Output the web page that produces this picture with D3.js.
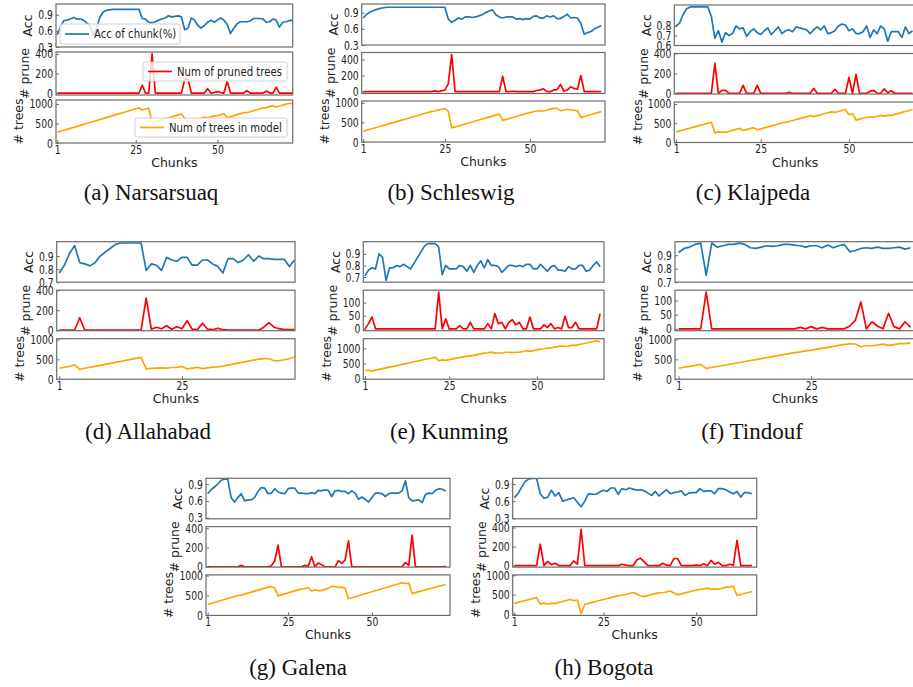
<!DOCTYPE html>
<html>
<head>
<meta charset="utf-8">
<script src="https://cdn.jsdelivr.net/npm/d3@7"></script>
<style>
body { margin: 0; background: #fff; }
svg { display: block; }
</style>
</head>
<body>
<svg id="fig" width="913" height="687"></svg>
<script>
//----------data----------
var chunkTicks = [1, 25, 50]
var chunkTicksShort = [1, 25]
var accTicksWide = [0.3, 0.6, 0.9]
var accTicksC = [0.6, 0.7, 0.8]
var accTicksNarrow = [0.7, 0.8, 0.9]
var pruneTicksBig = [0, 200, 400]
var pruneTicksSmall = [0, 50, 100]
var treeTicks = [0, 500, 1000]
var captions = ["(a) Narsarsuaq", "(b) Schleswig", "(c) Klajpeda", "(d) Allahabad",
	"(e) Kunming", "(f) Tindouf", "(g) Galena", "(h) Bogota"]
var legendNames = ["Acc of chunk(%)", "Num of pruned trees", "Num of trees in model"]

// (a) Narsarsuaq
var accA = [0.53,0.68,0.79,0.80,0.82,0.85,0.82,0.82,0.80,0.75,
	0.70,0.52,0.65,0.85,0.95,0.98,0.99,1.0,1.0,1.0,
	1.0,1.0,1.0,1.0,1.0,1.0,0.83,0.82,0.76,0.75,
	0.77,0.80,0.82,0.84,0.88,0.86,0.87,0.88,0.86,0.62,
	0.65,0.84,0.80,0.70,0.65,0.70,0.76,0.80,0.76,0.80,
	0.84,0.80,0.72,0.55,0.65,0.73,0.77,0.77,0.77,0.78,
	0.83,0.83,0.83,0.82,0.76,0.77,0.82,0.80,0.67,0.76,
	0.77,0.79,0.80]
var pruneA = [0,0,0,0,0,0,0,0,0,0,
	0,0,0,0,0,0,0,0,0,0,
	0,0,0,0,0,0,80,0,0,400,
	0,0,0,0,0,0,0,0,0,140,
	145,0,0,0,0,0,45,0,5,15,
	5,0,120,0,0,0,0,0,25,0,
	0,0,0,0,20,0,0,60,0,0,
	0,0,0]
var treesA = [275,300,325,350,375,400,425,450,475,500,
	525,550,575,600,625,650,675,700,725,750,
	775,800,825,850,875,900,845,870,895,520,
	545,570,595,620,645,670,695,720,745,630,
	540,565,590,615,640,665,645,670,690,700,
	720,745,650,675,700,725,750,775,775,800,
	825,850,875,900,905,930,955,920,945,970,
	995,1010,1020]

// (b) Schleswig
var accB = [0.80,0.87,0.91,0.94,0.96,0.98,0.99,1.0,1.0,1.0,
	1.0,1.0,1.0,1.0,1.0,1.0,1.0,1.0,1.0,1.0,
	1.0,1.0,1.0,1.0,1.0,0.78,0.72,0.76,0.80,0.78,
	0.82,0.82,0.81,0.82,0.84,0.86,0.90,0.93,0.95,0.86,
	0.82,0.80,0.82,0.82,0.82,0.78,0.79,0.77,0.79,0.78,
	0.83,0.84,0.80,0.80,0.84,0.82,0.84,0.79,0.79,0.83,
	0.87,0.80,0.81,0.80,0.70,0.50,0.53,0.55,0.60,0.63,
	0.66]
var pruneB = [0,0,0,0,0,0,0,0,0,0,
	0,0,0,0,0,0,0,0,0,0,
	0,10,0,10,20,100,460,0,0,0,
	0,0,0,0,0,0,0,0,0,0,
	0,190,0,0,5,0,0,0,0,0,
	0,15,20,35,0,0,20,25,90,5,
	20,60,40,30,200,0,0,0,0,0,
	0]
var treesB = [275,300,325,350,375,400,425,450,475,500,
	525,550,575,600,625,650,675,700,725,750,
	775,790,815,835,855,780,360,385,410,435,
	460,485,510,535,560,585,610,635,660,685,
	710,550,575,600,625,650,675,700,725,750,
	770,790,795,790,810,840,855,855,800,815,
	835,820,810,800,620,650,675,700,725,750,
	775]

// (c) Klajpeda
var accC = [0.80,0.83,0.92,0.98,1.0,1.0,1.0,1.0,1.0,1.0,
	0.90,0.67,0.75,0.63,0.73,0.70,0.72,0.80,0.77,0.78,
	0.69,0.74,0.77,0.73,0.71,0.75,0.78,0.71,0.75,0.79,
	0.72,0.75,0.76,0.74,0.79,0.78,0.77,0.76,0.72,0.76,
	0.79,0.76,0.80,0.72,0.73,0.75,0.80,0.82,0.81,0.75,
	0.77,0.72,0.72,0.74,0.80,0.68,0.76,0.72,0.80,0.77,
	0.64,0.74,0.74,0.74,0.68,0.79,0.72,0.75]
var pruneC = [0,0,0,0,0,0,0,0,0,0,
	0,300,0,30,30,0,0,0,0,80,
	0,0,0,80,0,0,0,0,0,0,
	0,0,10,0,0,0,0,0,0,50,
	0,0,0,0,0,40,0,0,0,160,
	0,190,0,0,0,20,30,0,0,45,
	5,25,0,0,0,0,0,0]
var treesC = [275,300,325,350,375,400,425,450,475,500,
	525,250,275,270,265,290,315,340,365,310,
	335,360,385,330,355,380,405,430,455,480,
	505,530,545,570,595,620,645,670,695,670,
	695,720,745,770,795,780,805,830,855,720,
	745,580,605,630,655,660,655,680,705,685,
	705,705,730,755,780,805,830,855]

// (d) Allahabad
var accD = [0.77,0.83,0.92,0.98,0.85,0.84,0.825,0.85,0.90,0.93,
	0.96,0.99,1.0,1.0,1.0,1.0,1.0,0.79,0.84,0.83,
	0.79,0.89,0.87,0.86,0.89,0.89,0.83,0.83,0.87,0.87,
	0.84,0.82,0.77,0.88,0.88,0.85,0.87,0.91,0.86,0.90,
	0.88,0.88,0.875,0.875,0.875,0.82,0.87]
var pruneD = [0,0,0,0,125,0,0,0,0,0,
	0,0,0,0,0,0,0,320,10,30,
	15,45,10,35,15,95,10,5,70,10,
	5,20,5,0,0,0,0,0,0,0,
	30,75,30,15,5,5,5]
var treesD = [275,300,325,360,250,275,300,325,350,375,
	400,425,450,475,500,525,550,260,275,280,
	285,280,295,300,320,260,280,300,265,285,
	305,310,330,355,380,405,430,455,480,505,
	520,515,465,470,490,520,560]

// (e) Kunming
var accE = [0.71,0.76,0.78,0.77,0.90,0.87,0.67,0.78,0.78,0.80,
	0.79,0.81,0.79,0.77,0.82,0.87,0.92,0.97,0.99,0.99,
	0.99,0.96,0.72,0.80,0.77,0.77,0.77,0.80,0.79,0.75,
	0.80,0.74,0.80,0.84,0.78,0.85,0.80,0.80,0.79,0.74,
	0.77,0.80,0.80,0.79,0.80,0.79,0.81,0.81,0.77,0.77,
	0.81,0.78,0.75,0.79,0.80,0.76,0.76,0.75,0.79,0.77,
	0.77,0.80,0.80,0.75,0.76,0.80,0.83,0.79]
var pruneE = [0,20,45,0,0,0,0,0,0,0,
	0,0,0,0,0,0,0,0,0,0,
	0,140,0,38,0,0,0,12,0,0,
	25,0,0,0,0,20,0,58,20,25,
	0,25,35,15,25,0,0,45,0,0,
	0,15,5,20,0,5,0,48,5,5,
	25,0,0,0,0,0,0,58]
var treesE = [275,280,260,285,310,335,360,385,410,435,
	460,485,510,535,560,585,610,635,660,685,
	710,595,620,607,632,657,682,695,720,745,
	745,770,795,820,845,850,875,842,847,847,
	872,872,862,872,872,897,922,902,927,952,
	977,987,1007,1012,1037,1057,1082,1059,1079,1099,
	1099,1124,1149,1174,1199,1224,1249,1216]

// (f) Tindouf
var accF = [0.92,0.95,0.96,0.98,0.99,0.75,0.99,0.96,0.97,0.98,
	0.98,0.99,0.98,0.955,0.95,0.96,0.97,0.965,0.97,0.98,
	0.98,0.975,0.97,0.96,0.97,0.97,0.955,0.975,0.955,0.97,
	0.98,0.925,0.935,0.95,0.955,0.95,0.96,0.95,0.95,0.955,
	0.96,0.945,0.955]
var pruneF = [0,0,0,0,0,130,0,0,0,0,
	0,0,0,0,0,0,0,0,0,0,
	0,0,5,0,8,0,5,0,0,0,
	0,10,30,95,0,25,10,0,55,8,
	0,25,5]
var treesF = [275,300,325,350,375,270,295,320,345,370,
	395,420,445,470,495,520,545,570,595,620,
	645,670,690,715,732,757,777,802,827,852,
	877,892,887,817,842,842,857,882,852,869,
	894,894,914]

// (g) Galena
var accG = [0.73,0.80,0.85,0.90,0.97,0.99,0.99,0.66,0.58,0.66,
	0.73,0.60,0.62,0.62,0.66,0.77,0.84,0.83,0.73,0.74,
	0.82,0.76,0.74,0.73,0.82,0.83,0.83,0.74,0.74,0.73,
	0.73,0.75,0.73,0.79,0.78,0.80,0.79,0.68,0.78,0.79,
	0.77,0.77,0.73,0.78,0.74,0.63,0.67,0.63,0.58,0.66,
	0.74,0.74,0.73,0.68,0.73,0.74,0.74,0.74,0.78,0.96,
	0.66,0.60,0.61,0.62,0.57,0.72,0.74,0.73,0.79,0.82,
	0.81,0.78]
var pruneG = [0,0,0,0,0,0,0,0,0,0,
	15,0,0,0,0,0,0,0,0,10,
	60,225,0,0,0,0,0,0,0,15,
	5,105,0,40,20,0,0,0,0,65,
	35,70,270,0,0,0,0,0,0,0,
	0,0,0,0,0,0,0,0,0,45,
	15,330,0,0,0,0,0,0,0,0,
	0,5]
var treesG = [275,300,325,350,375,400,425,450,475,500,
	510,535,560,585,610,635,660,685,710,725,
	690,490,515,540,565,590,615,640,665,675,
	695,615,640,625,630,655,680,735,720,705,
	710,680,420,445,470,495,520,545,570,595,
	620,645,670,695,720,745,770,795,820,800,
	810,550,574,598,620,643,665,688,710,733,
	755,770]

// (h) Bogota
var accH = [0.66,0.73,0.85,0.95,0.99,1.0,1.0,0.73,0.65,0.67,
	0.79,0.69,0.75,0.60,0.62,0.64,0.66,0.58,0.50,0.60,
	0.73,0.72,0.72,0.76,0.79,0.77,0.83,0.83,0.72,0.82,
	0.80,0.83,0.81,0.79,0.80,0.78,0.74,0.70,0.77,0.69,
	0.75,0.80,0.73,0.75,0.76,0.78,0.70,0.74,0.75,0.75,
	0.82,0.77,0.78,0.78,0.73,0.82,0.82,0.80,0.76,0.73,
	0.77,0.67,0.75,0.75,0.73]
var pruneH = [0,0,0,0,0,0,0,225,0,45,
	10,25,0,0,0,0,50,15,380,0,
	0,0,0,0,0,0,0,0,0,15,
	5,0,0,60,80,40,0,0,0,0,
	25,5,0,75,75,0,0,0,0,5,
	0,20,0,55,15,35,0,0,15,5,
	265,0,0,0,0]
var treesH = [275,300,325,350,375,400,425,255,280,260,
	275,275,300,325,350,375,350,360,10,250,
	275,300,325,350,375,400,425,450,475,485,
	505,530,555,520,465,450,475,500,525,550,
	550,570,595,545,495,520,545,570,595,615,
	640,645,670,640,650,640,665,690,700,720,
	480,505,530,555,580]

//----------layout of each sub figure----------
var subs = [
	{acc:accA, prune:pruneA, trees:treesA, cap:captions[0], capX:151, capY:200,
	 left:56, right:292.7, xdom:[0.6,73.05], top:4, h:43, gap:5, xticks:chunkTicks,
	 accDom:[0.3,1.1], accTicks:accTicksWide, pruneDom:[-20,420], pruneTicks:pruneTicksBig,
	 treesDom:[0,1100], legend:true},
	{acc:accB, prune:pruneB, trees:treesB, cap:captions[1], capX:451, capY:200,
	 left:361.7, right:605, xdom:[0.53,72.1], top:4, h:41, gap:7.5, xticks:chunkTicks,
	 accDom:[0.3,1.06], accTicks:accTicksWide, pruneDom:[-23,487], pruneTicks:pruneTicksBig,
	 treesDom:[0,1045]},
	{acc:accC, prune:pruneC, trees:treesC, cap:captions[2], capX:753, capY:200,
	 left:674.3, right:916, xdom:[0.5,69], top:5, h:40.5, gap:8, xticks:chunkTicks,
	 accDom:[0.595,1.02], accTicks:accTicksC, pruneDom:[-7,400], pruneTicks:pruneTicksBig,
	 treesDom:[0,1050]},
	{acc:accD, prune:pruneD, trees:treesD, cap:captions[3], capX:148, capY:439,
	 left:56.7, right:295, xdom:[0.5,47.1], top:241.7, h:40.5, gap:8, xticks:chunkTicksShort,
	 accDom:[0.7,1.01], accTicks:accTicksNarrow, pruneDom:[-5,400], pruneTicks:pruneTicksBig,
	 treesDom:[0,1020]},
	{acc:accE, prune:pruneE, trees:treesE, cap:captions[4], capX:449, capY:439,
	 left:363.3, right:604, xdom:[0.52,69.1], top:241.7, h:40.5, gap:8, xticks:chunkTicks,
	 accDom:[0.655,1.006], accTicks:accTicksNarrow, pruneDom:[-7,147], pruneTicks:pruneTicksSmall,
	 treesDom:[-10,1315]},
	{acc:accF, prune:pruneF, trees:treesF, cap:captions[5], capX:752, capY:439,
	 left:675, right:915, xdom:[0.35,43.8], top:241.7, h:40.5, gap:8, xticks:chunkTicksShort,
	 accDom:[0.7,1.0], accTicks:accTicksNarrow, pruneDom:[-6.5,136.5], pruneTicks:pruneTicksSmall,
	 treesDom:[0,1020]},
	{acc:accG, prune:pruneG, trees:treesG, cap:captions[6], capX:298, capY:675,
	 left:206, right:450, xdom:[0.5,73.3], top:478.3, h:40.5, gap:7.8, xticks:chunkTicks,
	 accDom:[0.28,1.006], accTicks:accTicksWide, pruneDom:[-3,418], pruneTicks:pruneTicksBig,
	 treesDom:[0,1018]},
	{acc:accH, prune:pruneH, trees:treesH, cap:captions[7], capX:604, capY:675,
	 left:512.7, right:756.7, xdom:[0.57,66.3], top:478.3, h:40.5, gap:7.8, xticks:chunkTicks,
	 accDom:[0.29,1.0], accTicks:accTicksWide, pruneDom:[-15,410], pruneTicks:pruneTicksBig,
	 treesDom:[-35,1010]}
]

var fontTick = "DejaVu Sans"
var tickSize = 12.5
var squeezeTick = 0.74
var frameColor = "#6a6a6a"

var svg = d3.select("#fig")
var defs = svg.append("defs")

// the source figures are slightly narrowed, so text is narrowed too
var squeeze = function (sel, f)
{
	sel.each(function ()
	{
		var len = this.getComputedTextLength()
		d3.select(this).attr("textLength", len * f).attr("lengthAdjust", "spacingAndGlyphs")
	})
}

//----------one panel----------
var drawPanel = function (s, k, i, p, x)
{
	var top = s.top + i * (s.h + s.gap)
	var bottom = top + s.h
	var y = d3.scaleLinear().domain(p.dom).range([bottom, top])
	var g = svg.append("g")

	var clipId = "clip" + k + "_" + i
	defs.append("clipPath").attr("id", clipId)
		.append("rect")
		.attr("x", s.left).attr("y", top)
		.attr("width", s.right - s.left).attr("height", s.h)

	var line = d3.line()
		.x(function (d, j) { return x(j + 1) })
		.y(function (d) { return y(d) })

	g.append("path")
		.datum(p.vals)
		.attr("clip-path", "url(#" + clipId + ")")
		.attr("d", line)
		.attr("fill", "none")
		.attr("stroke", p.color)
		.attr("stroke-width", 1.7)
		.attr("stroke-linejoin", "round")

	var yAxis = d3.axisLeft(y).tickValues(p.ticks).tickFormat(p.fmt)
		.tickSize(-3).tickPadding(3)
	var ya = g.append("g")
		.attr("transform", "translate(" + s.left + ",0)")
		.call(yAxis)
	ya.select(".domain").remove()
	ya.selectAll(".tick line").attr("stroke", frameColor)
	ya.selectAll("text")
		.attr("font-family", fontTick).attr("font-size", tickSize).attr("fill", "#222")
	squeeze(ya.selectAll("text"), squeezeTick)

	var w = 0
	ya.selectAll("text").each(function () { w = Math.max(w, this.getBBox().width) })

	g.append("rect")
		.attr("x", s.left).attr("y", top)
		.attr("width", s.right - s.left).attr("height", s.h)
		.attr("fill", "none")
		.attr("stroke", frameColor)
		.attr("stroke-width", 1.2)

	g.append("text")
		.attr("transform", "translate(" + (s.left - w - 9) + "," + (top + s.h / 2) + ") rotate(-90)")
		.attr("text-anchor", "middle")
		.attr("font-family", fontTick).attr("font-size", 12.5).attr("fill", "#222")
		.text(p.label)

	return {top: top, bottom: bottom}
}

//----------legend (only sub figure a)----------
var drawLegendBox = function (bx, by, bw, bh, color, name)
{
	svg.append("rect")
		.attr("x", bx).attr("y", by).attr("width", bw).attr("height", bh)
		.attr("rx", 2)
		.attr("fill", "rgba(255,255,255,0.8)")
		.attr("stroke", "#d0d0d0").attr("stroke-width", 1)
	svg.append("line")
		.attr("x1", bx + 5).attr("x2", bx + 29)
		.attr("y1", by + bh / 2).attr("y2", by + bh / 2)
		.attr("stroke", color).attr("stroke-width", 1.7)
	var t = svg.append("text")
		.attr("x", bx + 34).attr("y", by + bh / 2 + 4)
		.attr("font-family", fontTick).attr("font-size", 11.5).attr("fill", "#222")
		.text(name)
	squeeze(t, 0.88)
}

//----------sub figure----------
var drawSub = function (s, k)
{
	var x = d3.scaleLinear().domain(s.xdom).range([s.left, s.right])
	var panels = [
		{vals: s.acc, dom: s.accDom, ticks: s.accTicks, color: "#1f77b4", label: "Acc", fmt: d3.format(".1f")},
		{vals: s.prune, dom: s.pruneDom, ticks: s.pruneTicks, color: "#ff0000", label: "# prune", fmt: d3.format("d")},
		{vals: s.trees, dom: s.treesDom, ticks: treeTicks, color: "#ffa500", label: "# trees", fmt: d3.format("d")}
	]
	var last
	panels.forEach(function (p, i) { last = drawPanel(s, k, i, p, x) })

	var xa = svg.append("g")
		.attr("transform", "translate(0," + last.bottom + ")")
		.call(d3.axisBottom(x).tickValues(s.xticks).tickFormat(d3.format("d")).tickSize(-3).tickPadding(2))
	xa.select(".domain").remove()
	xa.selectAll(".tick line").attr("stroke", frameColor)
	xa.selectAll("text")
		.attr("font-family", fontTick).attr("font-size", tickSize).attr("fill", "#222")
	squeeze(xa.selectAll("text"), squeezeTick)

	svg.append("text")
		.attr("x", (s.left + s.right) / 2).attr("y", last.bottom + 24)
		.attr("text-anchor", "middle")
		.attr("font-family", fontTick).attr("font-size", 12.5).attr("fill", "#222")
		.text("Chunks")

	svg.append("text")
		.attr("x", s.capX).attr("y", s.capY)
		.attr("text-anchor", "middle")
		.attr("font-family", "Liberation Serif").attr("font-size", 23).attr("fill", "#111")
		.text(s.cap)

	if (s.legend)
	{
		drawLegendBox(60, 24, 120, 20, "#1f77b4", legendNames[0])
		drawLegendBox(143, 62, 144, 19, "#ff0000", legendNames[1])
		drawLegendBox(135, 118, 152, 19, "#ffa500", legendNames[2])
	}
}

subs.forEach(function (s, k) { drawSub(s, k) })
</script>
</body>
</html>
